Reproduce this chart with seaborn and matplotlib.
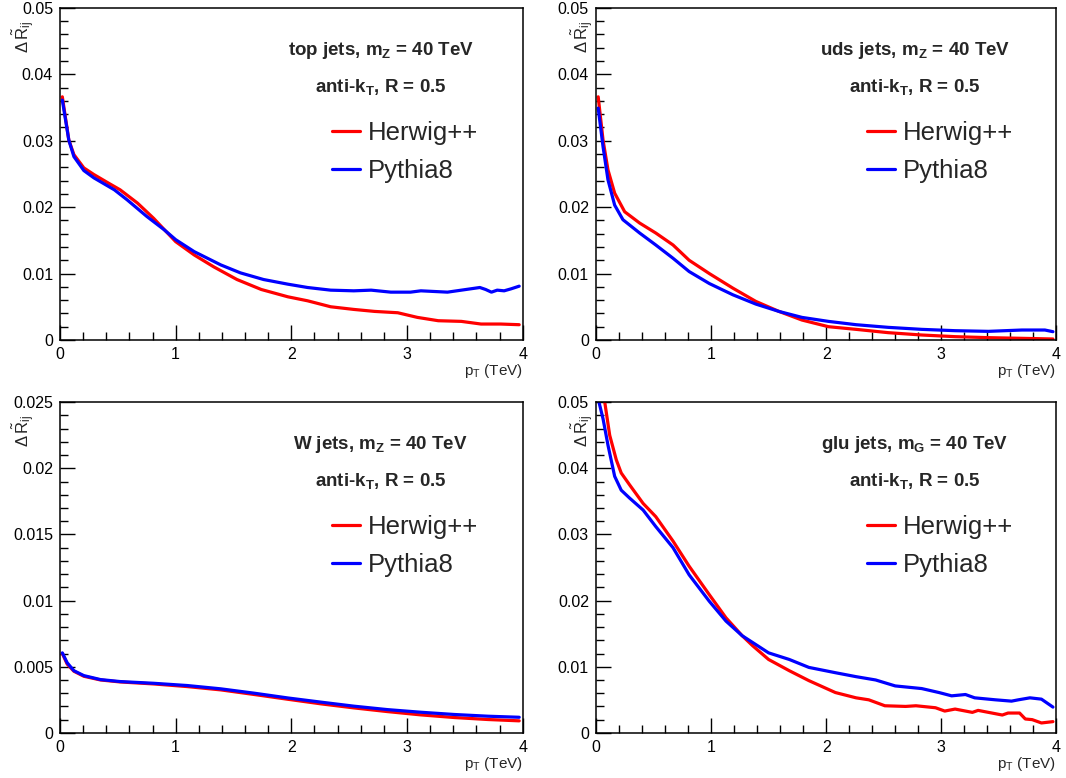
import numpy as np
import pandas as pd
import matplotlib
matplotlib.use('Agg')
import matplotlib.pyplot as plt
from matplotlib.ticker import MultipleLocator, FormatStrFormatter
import seaborn as sns

# top jets
top_x_herwig = [0.02, 0.076, 0.12, 0.206, 0.293, 0.42, 0.52, 0.67, 0.81, 1.0, 1.16, 1.33, 1.53, 1.74, 1.97,
                2.14, 2.34, 2.54, 2.72, 2.92, 3.09, 3.27, 3.47, 3.64, 3.81, 3.97]
top_y_herwig = [0.0366, 0.0301, 0.0279, 0.0259, 0.0249, 0.0236, 0.0226, 0.0206, 0.0183, 0.0148, 0.0128, 0.0110,
                0.0091, 0.0076, 0.0065, 0.0059, 0.0050, 0.0046, 0.0043, 0.0041, 0.0034, 0.0029, 0.0028, 0.0024,
                0.0024, 0.0023]
top_x_pythia = [0.02, 0.076, 0.12, 0.206, 0.293, 0.47, 0.58, 0.75, 0.90, 1.0, 1.16, 1.39, 1.56, 1.76, 1.97,
                2.14, 2.34, 2.54, 2.69, 2.86, 3.03, 3.12, 3.35, 3.47, 3.63, 3.68, 3.73, 3.78, 3.84, 3.90, 3.97]
top_y_pythia = [0.0361, 0.0301, 0.0276, 0.0255, 0.0244, 0.0226, 0.0211, 0.0186, 0.0166, 0.0151, 0.0133, 0.0113,
                0.0101, 0.0091, 0.0084, 0.0079, 0.0075, 0.0074, 0.0075, 0.0072, 0.0072, 0.0074, 0.0072, 0.0075,
                0.0079, 0.0076, 0.0072, 0.0075, 0.0074, 0.0077, 0.0081]

# uds jets
uds_x_herwig = [0.02, 0.062, 0.105, 0.163, 0.25, 0.38, 0.52, 0.67, 0.81, 0.985, 1.19, 1.39, 1.59, 1.79, 2.02,
                2.26, 2.54, 2.83, 3.12, 3.41, 3.70, 3.97]
uds_y_herwig = [0.0366, 0.0301, 0.0256, 0.0221, 0.0193, 0.0176, 0.0161, 0.0143, 0.0120, 0.0100, 0.0078, 0.0058,
                0.0043, 0.0030, 0.0020, 0.0016, 0.0011, 0.00075, 0.0005, 0.00035, 0.00025, 0.00015]
uds_x_pythia = [0.02, 0.062, 0.105, 0.163, 0.235, 0.38, 0.52, 0.67, 0.81, 0.985, 1.19, 1.39, 1.59, 1.79, 2.02,
                2.26, 2.54, 2.83, 3.12, 3.41, 3.70, 3.90, 3.97]
uds_y_pythia = [0.0349, 0.0291, 0.0241, 0.0203, 0.0181, 0.0161, 0.0143, 0.0123, 0.0103, 0.0085, 0.0068, 0.0054,
                0.0043, 0.0034, 0.0028, 0.0023, 0.0019, 0.0016, 0.0014, 0.0013, 0.0015, 0.0015, 0.00125]

# W jets
w_x = [0.02, 0.062, 0.12, 0.206, 0.35, 0.52, 0.81, 1.1, 1.39, 1.68, 1.97, 2.26, 2.54, 2.83, 3.12, 3.41, 3.70, 3.97]
w_y_herwig = [0.0060, 0.0052, 0.00466, 0.00428, 0.0040, 0.00385, 0.0037, 0.0035, 0.00325, 0.0029, 0.00254,
              0.00219, 0.00189, 0.00161, 0.00136, 0.00116, 0.00101, 0.00091]
w_y_pythia = [0.00605, 0.0053, 0.0047, 0.00433, 0.00403, 0.00388, 0.00375, 0.00358, 0.00333, 0.0030, 0.00264,
              0.00232, 0.00202, 0.00176, 0.00156, 0.00139, 0.00126, 0.00118]

# glu jets
glu_x_herwig = [0.02, 0.077, 0.12, 0.177, 0.22, 0.293, 0.41, 0.52, 0.67, 0.81, 0.985, 1.13, 1.27, 1.36, 1.5,
                1.68, 1.85, 2.08, 2.26, 2.37, 2.51, 2.69, 2.78, 2.95, 3.03, 3.12, 3.27, 3.32, 3.53, 3.58, 3.68,
                3.73, 3.79, 3.87, 3.97]
glu_y_herwig = [0.062, 0.050, 0.045, 0.0413, 0.0393, 0.0375, 0.0347, 0.0327, 0.0290, 0.0252, 0.0209, 0.0174,
                0.0147, 0.0132, 0.0111, 0.0094, 0.0079, 0.0061, 0.0053, 0.0050, 0.0041, 0.0040, 0.0041, 0.0038,
                0.0033, 0.0036, 0.0031, 0.0034, 0.0027, 0.0030, 0.0030, 0.0021, 0.0020, 0.0015, 0.0017]
glu_x_pythia = [0.02, 0.062, 0.105, 0.163, 0.22, 0.293, 0.41, 0.52, 0.67, 0.81, 0.985, 1.13, 1.27, 1.5, 1.68,
                1.85, 2.08, 2.26, 2.43, 2.6, 2.83, 2.98, 3.09, 3.21, 3.29, 3.47, 3.61, 3.67, 3.77, 3.87, 3.97]
glu_y_pythia = [0.0505, 0.0475, 0.0435, 0.0388, 0.0367, 0.0355, 0.0337, 0.0312, 0.0280, 0.0239, 0.0199, 0.0169,
                0.0147, 0.0121, 0.0111, 0.0099, 0.0091, 0.0085, 0.0080, 0.0071, 0.0067, 0.0061, 0.0056, 0.0058,
                0.0053, 0.0050, 0.0048, 0.0050, 0.0053, 0.0051, 0.0039]

panels = [
    dict(title=r'top jets, m$_{\mathbf{Z}}$ = 40 TeV', ymax=0.05, ystep=0.01, ylab_x=-0.049,
         herwig=(top_x_herwig, top_y_herwig), pythia=(top_x_pythia, top_y_pythia)),
    dict(title=r'uds jets, m$_{\mathbf{Z}}$ = 40 TeV', ymax=0.05, ystep=0.01, ylab_x=0.0,
         herwig=(uds_x_herwig, uds_y_herwig), pythia=(uds_x_pythia, uds_y_pythia)),
    dict(title=r'W jets, m$_{\mathbf{Z}}$ = 40 TeV', ymax=0.025, ystep=0.005, ylab_x=-0.049,
         herwig=(w_x, w_y_herwig), pythia=(w_x, w_y_pythia)),
    dict(title=r'glu jets, m$_{\mathbf{G}}$ = 40 TeV', ymax=0.05, ystep=0.01, ylab_x=0.0,
         herwig=(glu_x_herwig, glu_y_herwig), pythia=(glu_x_pythia, glu_y_pythia)),
]

sns.set_style('ticks')
plt.rcParams['font.family'] = ['Liberation Sans', 'DejaVu Sans']
plt.rcParams['mathtext.fontset'] = 'custom'
plt.rcParams['mathtext.rm'] = 'Liberation Sans'
plt.rcParams['mathtext.it'] = 'Liberation Sans:italic'
plt.rcParams['mathtext.bf'] = 'Liberation Sans:bold'

fig = plt.figure(figsize=(10.66, 7.78), dpi=100)

# axes boxes in figure fractions [left, bottom, width, height]
boxes = [
    [0.0563, 0.563, 0.434, 0.427],
    [0.559, 0.563, 0.432, 0.427],
    [0.0563, 0.058, 0.434, 0.425],
    [0.559, 0.058, 0.432, 0.425],
]

for box, p in zip(boxes, panels):
    ax = fig.add_axes(box)
    df_h = pd.DataFrame({'pT': p['herwig'][0], 'dR': p['herwig'][1]})
    df_p = pd.DataFrame({'pT': p['pythia'][0], 'dR': p['pythia'][1]})
    sns.lineplot(data=df_h, x='pT', y='dR', color='#ff0000', lw=2.3, label='Herwig++', ax=ax)
    sns.lineplot(data=df_p, x='pT', y='dR', color='#0000ff', lw=2.3, label='Pythia8', ax=ax)

    ax.set_xlim(0, 4)
    ax.set_ylim(0, p['ymax'])
    ax.xaxis.set_major_locator(MultipleLocator(1))
    ax.xaxis.set_minor_locator(MultipleLocator(0.2))
    ax.yaxis.set_major_locator(MultipleLocator(p['ystep']))
    ax.yaxis.set_minor_locator(MultipleLocator(p['ystep'] / 5))
    ax.yaxis.set_major_formatter(FormatStrFormatter('%g'))
    ax.tick_params(which='both', direction='in', top=False, right=False, labelsize=11.5, colors='black')
    ax.tick_params(which='major', length=11, width=1, pad=5)
    ax.tick_params(which='minor', length=5.5, width=1)
    for s in ax.spines.values():
        s.set_color('black')
        s.set_linewidth(1.1)

    ax.set_xlabel(r'p$_{\mathrm{T}}$ (TeV)', loc='right', fontsize=11, labelpad=0)
    ax.set_ylabel(r'$\Delta\,\tilde{\mathrm{R}}_{\mathrm{ij}}$', loc='top', fontsize=12)
    ax.yaxis.set_label_coords(p['ylab_x'], 0.96)

    ax.text(0.693, 0.872, p['title'], transform=ax.transAxes, ha='center', va='center',
            fontsize=13.5, fontweight='bold')
    ax.text(0.693, 0.762, r'anti-k$_{\mathbf{T}}$, R = 0.5', transform=ax.transAxes, ha='center',
            va='center', fontsize=13.5, fontweight='bold')

    ax.legend(loc='upper left', bbox_to_anchor=(0.588, 0.66), frameon=False, fontsize=18.5,
              handlelength=1.1, handletextpad=0.3, labelspacing=0.55, borderpad=0, borderaxespad=0)

fig.savefig('out.png', dpi=100)
